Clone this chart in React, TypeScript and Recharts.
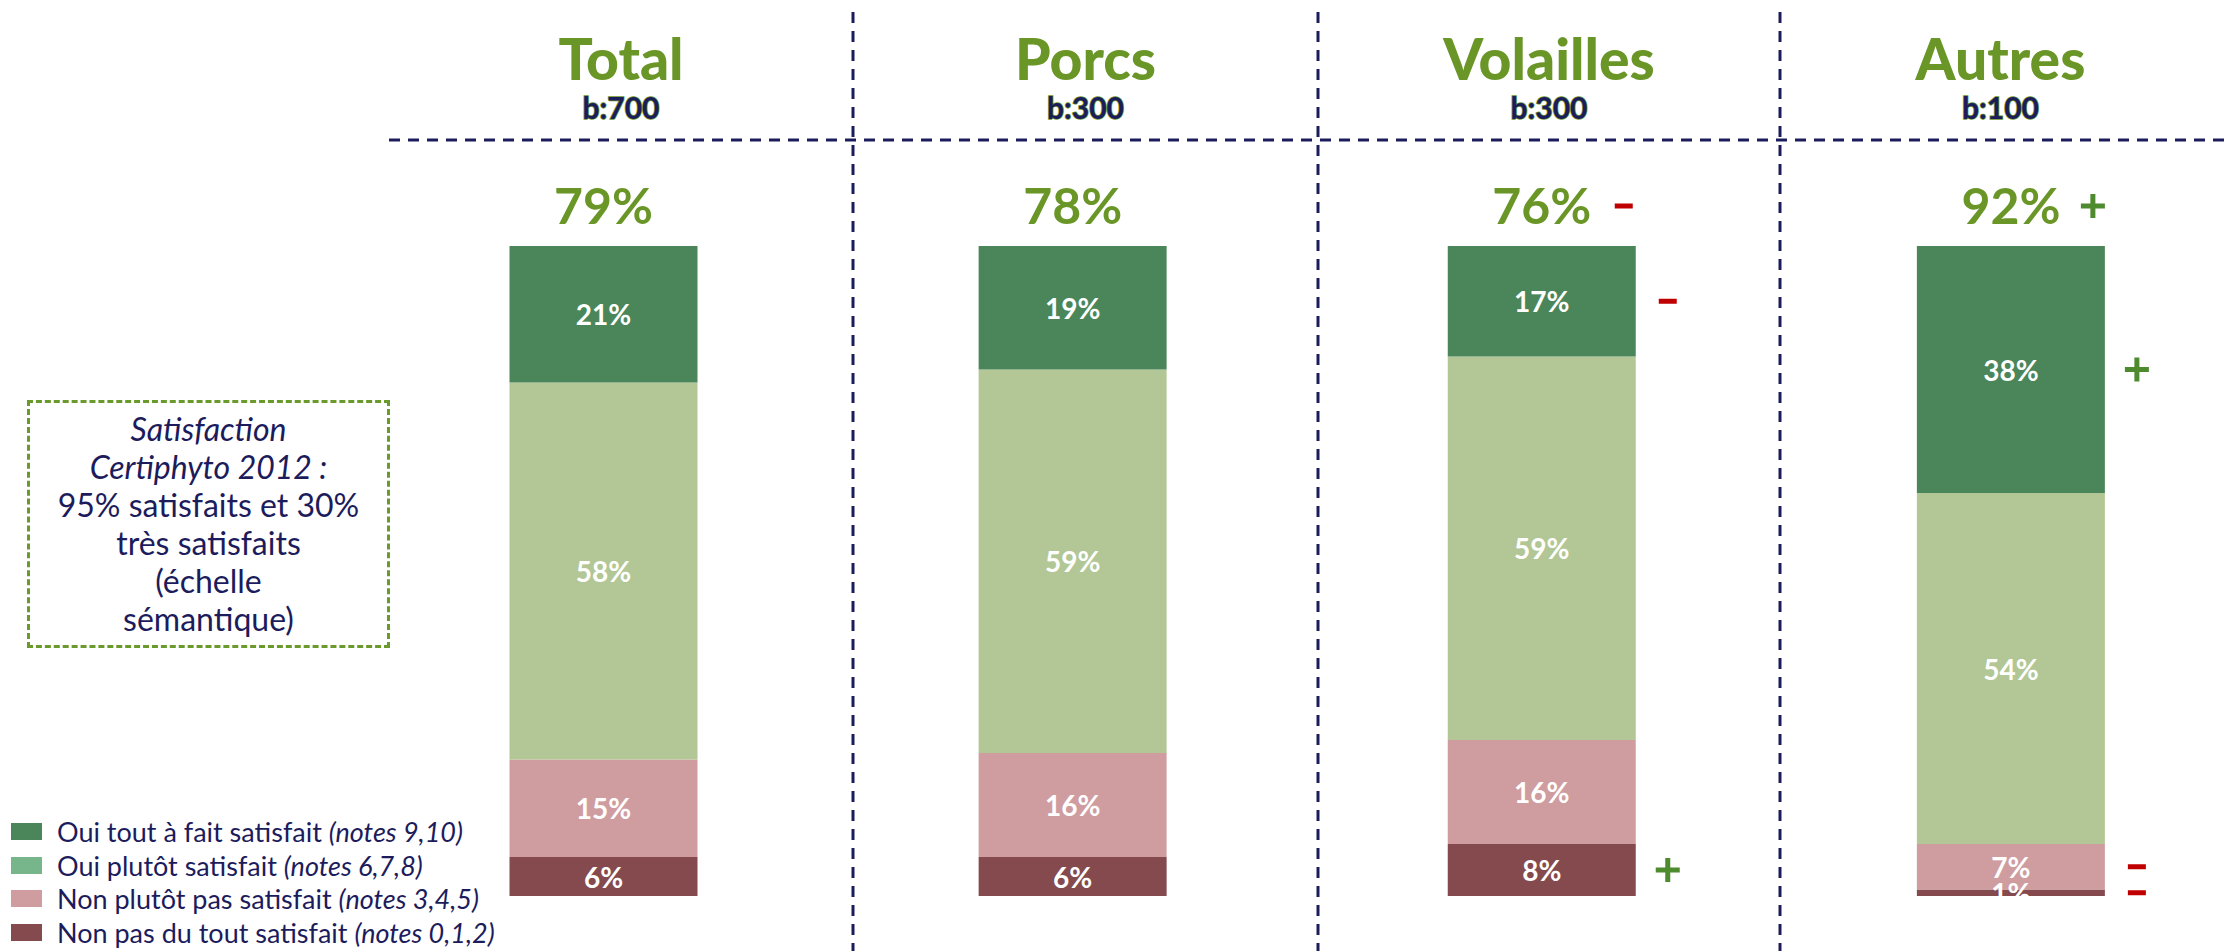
import { Bar, BarChart, LabelList, XAxis, YAxis } from "recharts";

const categories = ["Total", "Porcs", "Volailles", "Autres"];
const bases = ["b:700", "b:300", "b:300", "b:100"];

const satisfied = [79, 78, 76, 92];
const satisfiedSig = ["", "", "-", "+"];

const tresSatisfait = [21, 19, 17, 38];
const tresSatisfaitSig = ["", "", "-", "+"];
const plutotSatisfait = [58, 59, 59, 54];
const plutotSatisfaitSig = ["", "", "", ""];
const plutotPas = [15, 16, 16, 7];
const plutotPasSig = ["", "", "", "-"];
const pasDuTout = [6, 6, 8, 1];
const pasDuToutSig = ["", "", "+", "-"];

const legendLabels = [
  ["Oui tout à fait satisfait ", "(notes 9,10)"],
  ["Oui plutôt satisfait ", "(notes 6,7,8)"],
  ["Non plutôt pas satisfait ", "(notes 3,4,5)"],
  ["Non pas du tout satisfait ", "(notes 0,1,2)"],
];
const legendColors = ["#4a865a", "#77b68a", "#cf9da0", "#844a4e"];

const noteLines = ["95% satisfaits et 30%", "très satisfaits", "(échelle", "sémantique)"];

const data = categories.map((name, i) => ({
  name,
  pasDuTout: pasDuTout[i],
  plutotPas: plutotPas[i],
  plutotSatisfait: plutotSatisfait[i],
  tresSatisfait: tresSatisfait[i],
}));

const GREEN = "#6a9628";
const NAVY = "#1c1c5c";
const FONT = "Lato, 'DejaVu Sans', sans-serif";

// column dividers of the header grid
const dividers = [853, 1318, 1780];
const colEdges = [389, 853, 1318, 1780, 2245];

function Mark({ x, y, sign }: { x: number; y: number; sign: string }) {
  if (sign === "-") {
    return <rect x={x - 9} y={y - 2.5} width={18} height={5} fill="#c00000" />;
  }
  if (sign === "+") {
    return (
      <g fill="#4e8a2e">
        <rect x={x - 12} y={y - 2.5} width={24} height={5} />
        <rect x={x - 2.5} y={y - 12} width={5} height={24} />
      </g>
    );
  }
  return null;
}

function segmentLabel(sig: string[]) {
  return (props: any) => {
    const { x, y, width, height, value, index } = props;
    const cx = Number(x) + Number(width) / 2;
    const cy = Number(y) + Number(height) / 2;
    return (
      <g>
        <g clipPath="url(#plotClip)">
          <text
            x={cx}
            y={cy}
            textAnchor="middle"
            dominantBaseline="central"
            fill="#ffffff"
            fontFamily={FONT}
            fontWeight={700}
            fontSize={28}
          >
            {value}%
          </text>
        </g>
        <Mark x={Number(x) + Number(width) + 32} y={cy} sign={sig[index] || ""} />
      </g>
    );
  };
}

function totalLabel(props: any) {
  const { x, y, width, index } = props;
  const cx = Number(x) + Number(width) / 2;
  return (
    <g>
      <text
        x={cx}
        y={Number(y) - 22}
        textAnchor="middle"
        fill={GREEN}
        fontFamily={FONT}
        fontWeight={700}
        fontSize={50}
      >
        {satisfied[index]}%
      </text>
      <Mark x={cx + 82} y={Number(y) - 40} sign={satisfiedSig[index] || ""} />
    </g>
  );
}

function LegendBox() {
  return (
    <div style={{ fontFamily: FONT, fontSize: 27, color: NAVY }}>
      {legendLabels.map((l, i) => (
        <div key={i} style={{ display: "flex", alignItems: "center", height: 33.5 }}>
          <span
            style={{ display: "inline-block", width: 31, height: 17, background: legendColors[i], marginRight: 15 }}
          />
          <span>
            {l[0]}
            <i>{l[1]}</i>
          </span>
        </div>
      ))}
    </div>
  );
}

export default function App() {
  return (
    <div
      style={{
        position: "absolute",
        left: 0,
        top: 0,
        width: 2225,
        height: 951,
        overflow: "hidden",
        background: "#ffffff",
        fontFamily: FONT,
      }}
    >
      <svg width={2225} height={951} style={{ position: "absolute", left: 0, top: 0 }}>
        <line x1={389} y1={140} x2={2225} y2={140} stroke={NAVY} strokeWidth={3} strokeDasharray="11 8" />
        {dividers.map((d) => (
          <line key={d} x1={d} y1={12} x2={d} y2={951} stroke={NAVY} strokeWidth={3} strokeDasharray="11 8" />
        ))}
        {categories.map((c, i) => {
          const cx = (colEdges[i] + colEdges[i + 1]) / 2 - (i === 3 ? 12 : 0);
          return (
            <g key={c}>
              <text x={cx} y={80} textAnchor="middle" fill={GREEN} fontFamily={FONT} fontWeight={900} fontSize={57}>
                {c}
              </text>
              <text
                x={cx}
                y={119}
                textAnchor="middle"
                fill={NAVY}
                stroke={GREEN}
                strokeWidth={1.5}
                paintOrder="stroke"
                fontFamily={FONT}
                fontWeight={700}
                fontSize={30}
              >
                {bases[i]}
              </text>
            </g>
          );
        })}
      </svg>

      <div
        style={{
          position: "absolute",
          left: 27,
          top: 400,
          width: 357,
          height: 242,
          border: "3px dashed #6a9a2c",
          color: NAVY,
          fontSize: 32,
          lineHeight: "38px",
          textAlign: "center",
          display: "flex",
          flexDirection: "column",
          justifyContent: "center",
        }}
      >
        <i>Satisfaction</i>
        <i>Certiphyto 2012 :</i>
        {noteLines.map((l) => (
          <span key={l}>{l}</span>
        ))}
      </div>

      <div style={{ position: "absolute", left: 11, top: 815 }}>
        <LegendBox />
      </div>

      <div style={{ position: "absolute", left: 0, top: 0 }}>
        <BarChart width={2245} height={951} data={data} margin={{ top: 246, right: 0, bottom: 55, left: 368.5 }}>
          <defs>
            <clipPath id="plotClip">
              <rect x={0} y={0} width={2245} height={896} />
            </clipPath>
          </defs>
          <XAxis dataKey="name" hide />
          <YAxis hide domain={[0, 100]} />
          <Bar dataKey="pasDuTout" stackId="s" fill="#844a4e" barSize={188} isAnimationActive={false}>
            <LabelList dataKey="pasDuTout" content={segmentLabel(pasDuToutSig)} />
          </Bar>
          <Bar dataKey="plutotPas" stackId="s" fill="#cf9da0" barSize={188} isAnimationActive={false}>
            <LabelList dataKey="plutotPas" content={segmentLabel(plutotPasSig)} />
          </Bar>
          <Bar dataKey="plutotSatisfait" stackId="s" fill="#b2c795" barSize={188} isAnimationActive={false}>
            <LabelList dataKey="plutotSatisfait" content={segmentLabel(plutotSatisfaitSig)} />
          </Bar>
          <Bar dataKey="tresSatisfait" stackId="s" fill="#4a865a" barSize={188} isAnimationActive={false}>
            <LabelList dataKey="tresSatisfait" content={segmentLabel(tresSatisfaitSig)} />
            <LabelList dataKey="tresSatisfait" content={totalLabel} />
          </Bar>
        </BarChart>
      </div>
    </div>
  );
}
